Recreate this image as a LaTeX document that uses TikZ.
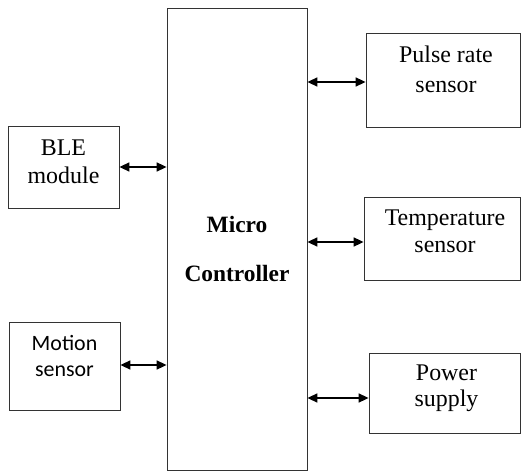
\documentclass[tikz,border=0pt]{standalone}
\usepackage{fontspec}
\setmainfont{Liberation Serif}
\newfontfamily\calibrifont{Carlito}
\usetikzlibrary{arrows.meta,positioning}

\begin{document}
\begin{tikzpicture}[x=1bp,y=-1bp,
  block/.style={draw=black!80, line width=0.8bp, inner sep=0pt},
  lbl/.style={align=center, font=\fontsize{24}{28}\selectfont},
  link/.style={line width=1.6bp, {Triangle[length=10bp,width=9bp]}-{Triangle[length=10bp,width=9bp]}}]
  \useasboundingbox (0,0) rectangle (521,472);
  % Micro controller
  \node[block, minimum width=140bp, minimum height=462bp] (mcu) at (237,239) {};
  \node[lbl, font=\fontsize{23.5}{50}\selectfont\bfseries] (mculbl) at ([yshift=-10bp]mcu.center) {Micro\\Controller};
  % Left blocks
  \node[block, minimum width=111bp, minimum height=82bp] (ble) at (63.5,167) {};
  \node[lbl] (blelbl) at ([yshift=5bp]ble.center) {BLE\\module};
  \node[block, minimum width=111bp, minimum height=88bp] (motion) at (64.5,366) {};
  \node[lbl, font=\fontsize{22}{27}\calibrifont] (motionlbl) at ([yshift=10bp]motion.center) {Motion\\sensor};
  % Right blocks
  \node[block, minimum width=154bp, minimum height=94bp] (pulse) at (443,80) {};
  \node[lbl, font=\fontsize{24}{30}\selectfont] (pulselbl) at ([xshift=3bp,yshift=11bp]pulse.center) {Pulse rate\\sensor};
  \node[block, minimum width=156bp, minimum height=83bp] (temp) at (442,238.5) {};
  \node[lbl, font=\fontsize{24}{27}\selectfont] (templbl) at ([xshift=3bp,yshift=7bp]temp.center) {Temperature\\sensor};
  \node[block, minimum width=151bp, minimum height=80bp] (power) at (444.5,393) {};
  \node[lbl, font=\fontsize{24}{26}\selectfont] (powerlbl) at ([xshift=2bp,yshift=5bp]power.center) {Power\\supply};
  % Links
  \draw[link] (ble.east) -- (ble.east -| mcu.west);
  \draw[link] ([yshift=1bp]motion.east) -- ([yshift=1bp]motion.east -| mcu.west);
  \draw[link] ([yshift=-2bp]pulse.west) -- ([yshift=-2bp]pulse.west -| mcu.east);
  \draw[link] ([yshift=-3.5bp]temp.west) -- ([yshift=-3.5bp]temp.west -| mcu.east);
  \draw[link] ([yshift=-5bp]power.west) -- ([yshift=-5bp]power.west -| mcu.east);
\end{tikzpicture}
\end{document}
